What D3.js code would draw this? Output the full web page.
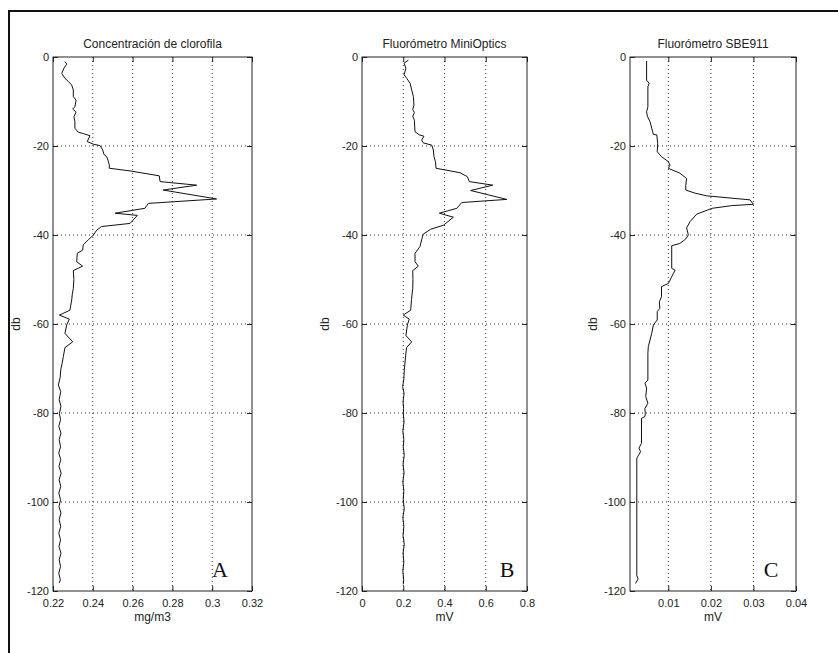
<!DOCTYPE html>
<html>
<head>
<meta charset="utf-8">
<script src="https://cdn.jsdelivr.net/npm/d3@7/dist/d3.min.js"></script>
<style>
  html, body { margin: 0; padding: 0; background: #fff; }
  svg { display: block; }
  text { font-family: "Liberation Sans", Arial, Helvetica, sans-serif; fill: #222; }
  .letter { font-family: "Liberation Serif", "Times New Roman", serif; fill: #111; }
</style>
</head>
<body>
<svg id="chart" width="838" height="653"></svg>
<script>
// Depth axis (db), shared by the three profiles
const depthTicks = [0, -20, -40, -60, -80, -100, -120];

// Profile A: chlorophyll concentration (mg/m3)
const depthA = [-1, -1.6, -2.5, -3.7, -4.8, -5.5, -6.3, -7.4, -8.9, -9.7, -11.2, -11.7, -12.4, -13.4, -14.5, -16.0,
  -16.9, -17.2, -17.7, -19.0, -19.6, -19.9, -20.9, -21.9, -22.4, -23.4, -24.3, -25.0, -25.6, -26.7, -28.0, -28.8,
  -29.9, -31.9, -32.9, -34.0, -35.1, -35.6, -37.4, -38.1, -38.9, -40.0, -41.1, -42.2, -43.4, -44.1, -46.0, -47.0,
  -48.0, -50.0, -52.0, -53.3, -54.6, -56.9, -58.0, -58.9, -60.2, -62.1, -64.0, -65.3, -67.3, -68.8, -70.3, -72.0,
  -73.7, -75.2, -77.0, -78.5, -80.1, -81.5, -83.0, -84.5, -86.0, -87.6, -89.0, -90.5, -92.0, -93.5, -95.0, -96.5,
  -98.0, -99.5, -101.0, -102.5, -104.0, -105.5, -107.0, -108.5, -110.0, -111.5, -113.0, -114.5, -116.0, -117.5, -118.2];
const chlA = [0.2260, 0.2269, 0.2255, 0.2244, 0.2260, 0.2277, 0.2294, 0.2302, 0.2302, 0.2316, 0.2310, 0.2299, 0.2316, 0.2305, 0.2310, 0.2310,
  0.2327, 0.2352, 0.2386, 0.2372, 0.2403, 0.2436, 0.2450, 0.2456, 0.2470, 0.2478, 0.2483, 0.2483, 0.2587, 0.2734, 0.2738, 0.2922,
  0.2754, 0.3022, 0.2679, 0.2662, 0.2512, 0.2624, 0.2587, 0.2444, 0.2420, 0.2403, 0.2377, 0.2352, 0.2349, 0.2322, 0.2319, 0.2349,
  0.2302, 0.2305, 0.2302, 0.2297, 0.2294, 0.2285, 0.2232, 0.2282, 0.2269, 0.2260, 0.2299, 0.2260, 0.2252, 0.2246, 0.2239, 0.2236,
  0.2227, 0.2239, 0.2231, 0.2240, 0.2232, 0.2238, 0.2229, 0.2240, 0.2231, 0.2238, 0.2229, 0.2239, 0.2230, 0.2241, 0.2231, 0.2239,
  0.2229, 0.2238, 0.2230, 0.2240, 0.2231, 0.2239, 0.2229, 0.2238, 0.2230, 0.2240, 0.2231, 0.2238, 0.2229, 0.2237, 0.2231];
const ticksA = [0.22, 0.24, 0.26, 0.28, 0.3, 0.32];
const labelsA = ["0.22", "0.24", "0.26", "0.28", "0.3", "0.32"];

// Profile B: MiniOptics fluorometer (mV)
const depthB = [-0.7, -1.4, -2.5, -4.0, -4.8, -5.9, -7.4, -8.9, -10.8, -11.8, -12.5, -13.3, -14.2, -16.8, -17.5, -17.8,
  -18.7, -19.3, -19.8, -20.9, -22.4, -23.5, -25.0, -26.0, -26.9, -28.0, -28.8, -30.0, -32.0, -32.7, -34.0, -35.1,
  -36.0, -37.8, -38.7, -39.8, -41.1, -42.6, -44.1, -46.0, -47.0, -48.0, -50.0, -52.0, -54.5, -56.9, -58.0, -58.9,
  -60.2, -62.6, -64.0, -65.3, -67.0, -68.8, -70.5, -72.3, -74.1, -75.6, -77.5, -79.0, -80.1, -82.0, -84.0, -86.0,
  -87.6, -89.5, -91.5, -93.5, -95.5, -97.5, -99.5, -101.5, -103.5, -105.5, -107.5, -109.5, -111.5, -113.5, -115.5, -117.5, -118.5];
const voltB = [0.225, 0.204, 0.213, 0.204, 0.217, 0.233, 0.241, 0.249, 0.252, 0.246, 0.254, 0.246, 0.254, 0.257, 0.278, 0.300,
  0.289, 0.297, 0.338, 0.346, 0.349, 0.356, 0.359, 0.475, 0.511, 0.520, 0.634, 0.527, 0.702, 0.484, 0.460, 0.375,
  0.443, 0.395, 0.333, 0.297, 0.289, 0.281, 0.257, 0.257, 0.273, 0.246, 0.247, 0.246, 0.240, 0.236, 0.200, 0.229,
  0.220, 0.213, 0.241, 0.216, 0.212, 0.208, 0.205, 0.203, 0.197, 0.204, 0.199, 0.202, 0.200, 0.204, 0.198, 0.203,
  0.200, 0.205, 0.199, 0.204, 0.198, 0.203, 0.200, 0.205, 0.198, 0.203, 0.199, 0.205, 0.199, 0.203, 0.198, 0.202, 0.200];
const ticksB = [0, 0.2, 0.4, 0.6, 0.8];
const labelsB = ["0", "0.2", "0.4", "0.6", "0.8"];

// Profile C: SBE911 fluorometer (mV)
const depthC = [-0.9, -5.2, -5.9, -6.7, -11.2, -12.3, -13.4, -14.5, -16.0, -17.4, -17.5, -19.4, -21.3, -22.4, -23.5, -24.3,
  -25.0, -26.1, -27.3, -28.8, -29.9, -30.6, -31.2, -32.1, -33.1, -33.4, -34.0, -35.3, -37.0, -38.4, -40.0, -40.9,
  -41.9, -42.4, -47.5, -47.9, -48.6, -50.9, -51.6, -53.9, -55.0, -56.5, -57.2, -59.1, -60.2, -62.1, -65.1, -66.6,
  -72.6, -73.3, -74.4, -76.3, -77.8, -79.0, -80.1, -80.8, -81.2, -86.8, -87.9, -88.7, -89.8, -90.2, -116.5, -117.3, -118.3];
const voltC = [0.0049, 0.0049, 0.0055, 0.0052, 0.0052, 0.0049, 0.0051, 0.0057, 0.0061, 0.0065, 0.0073, 0.0075, 0.0074, 0.0084, 0.0100, 0.0104,
  0.0100, 0.0127, 0.0143, 0.0141, 0.0141, 0.0163, 0.0190, 0.0292, 0.0300, 0.0249, 0.0203, 0.0167, 0.0151, 0.0143, 0.0147, 0.0141,
  0.0127, 0.0108, 0.0108, 0.0116, 0.0112, 0.0100, 0.0084, 0.0084, 0.0079, 0.0080, 0.0074, 0.0074, 0.0065, 0.0061, 0.0053, 0.0052,
  0.0052, 0.0045, 0.0049, 0.0047, 0.0052, 0.0045, 0.0046, 0.0045, 0.0037, 0.0037, 0.0031, 0.0035, 0.0028, 0.0026, 0.0026, 0.0029, 0.0023];
const ticksC = [0.01, 0.02, 0.03, 0.04];
const labelsC = ["0.01", "0.02", "0.03", "0.04"];

const titles = ["Concentración de clorofila", "Fluorómetro MiniOptics", "Fluorómetro SBE911"];
const units = ["mg/m3", "mV", "mV"];
const letters = ["A", "B", "C"];

const panels = [
  { title: titles[0], unit: units[0], letter: letters[0], depth: depthA, values: chlA,
    domain: [0.22, 0.32], ticks: ticksA, labels: labelsA, x0: 53, x1: 252, letterX: 220 },
  { title: titles[1], unit: units[1], letter: letters[1], depth: depthB, values: voltB,
    domain: [0, 0.8], ticks: ticksB, labels: labelsB, x0: 362, x1: 527, letterX: 507 },
  { title: titles[2], unit: units[2], letter: letters[2], depth: depthC, values: voltC,
    domain: [0.001, 0.04], ticks: ticksC, labels: labelsC, x0: 630, x1: 796, letterX: 771 }
];

const svg = d3.select("#chart");
const plotTop = 57, plotBottom = 591;

// Figure frame (open on the right and bottom edges)
svg.append("path")
  .attr("d", d3.line()([[9, 653], [9, 11], [838, 11]]))
  .attr("fill", "none").attr("stroke", "#111").attr("stroke-width", 2);

const y = d3.scaleLinear().domain([-120, 0]).range([plotBottom, plotTop]);

panels.forEach(p => {
  const x = d3.scaleLinear().domain(p.domain).range([p.x0, p.x1]);
  const g = svg.append("g");
  const w = p.x1 - p.x0, h = plotBottom - plotTop;

  // Dotted grid at interior ticks
  const gridX = p.ticks.filter(t => t > p.domain[0] && t < p.domain[1]);
  const gridY = depthTicks.filter(t => t > -120 && t < 0);
  g.append("g").selectAll("line").data(gridX).join("line")
    .attr("x1", d => x(d)).attr("x2", d => x(d)).attr("y1", plotTop).attr("y2", plotBottom)
    .attr("stroke", "#333").attr("stroke-width", 1).attr("stroke-dasharray", "1,3");
  g.append("g").selectAll("line").data(gridY).join("line")
    .attr("x1", p.x0).attr("x2", p.x1).attr("y1", d => y(d)).attr("y2", d => y(d))
    .attr("stroke", "#333").attr("stroke-width", 1).attr("stroke-dasharray", "1,3");

  // Profile line
  const pts = p.depth.map((d, i) => [p.values[i], d]);
  g.append("path")
    .datum(pts)
    .attr("d", d3.line().x(d => x(d[0])).y(d => y(d[1])))
    .attr("fill", "none").attr("stroke", "#111").attr("stroke-width", 1);

  // Axes with inward ticks on every side
  const yFmt = d => String(d);
  const left = g.append("g").attr("transform", `translate(${p.x0},0)`)
    .call(d3.axisLeft(y).tickValues(depthTicks).tickFormat(yFmt).tickSize(-5).tickPadding(4));
  const right = g.append("g").attr("transform", `translate(${p.x1},0)`)
    .call(d3.axisRight(y).tickValues(depthTicks).tickFormat("").tickSize(-5));
  const bot = g.append("g").attr("transform", `translate(0,${plotBottom})`)
    .call(d3.axisBottom(x).tickValues(p.ticks).tickFormat((d, i) => p.labels[i]).tickSize(-5).tickPadding(8));
  const topAx = g.append("g").attr("transform", `translate(0,${plotTop})`)
    .call(d3.axisTop(x).tickValues(p.ticks).tickFormat("").tickSize(-5));
  [left, right, bot, topAx].forEach(a => {
    a.select(".domain").remove();
    a.selectAll(".tick line").attr("stroke", "#222");
    a.selectAll(".tick text").attr("font-size", 11)
      .attr("font-family", "'Liberation Sans', Arial, sans-serif").attr("fill", "#222");
  });

  // Axes box
  g.append("rect").attr("x", p.x0).attr("y", plotTop).attr("width", w).attr("height", h)
    .attr("fill", "none").attr("stroke", "#222").attr("stroke-width", 1);

  // Title, axis labels and panel letter
  g.append("text").attr("x", (p.x0 + p.x1) / 2).attr("y", 48)
    .attr("text-anchor", "middle").attr("font-size", 12).text(p.title);
  g.append("text").attr("x", (p.x0 + p.x1) / 2).attr("y", 621)
    .attr("text-anchor", "middle").attr("font-size", 12).text(p.unit);
  g.append("text")
    .attr("transform", `translate(${p.x0 - 33},${(plotTop + plotBottom) / 2}) rotate(-90)`)
    .attr("text-anchor", "middle").attr("font-size", 12).text("db");
  g.append("text").attr("class", "letter")
    .attr("x", p.letterX).attr("y", 577)
    .attr("text-anchor", "middle").attr("font-size", 22).text(p.letter);
});
</script>
</body>
</html>
